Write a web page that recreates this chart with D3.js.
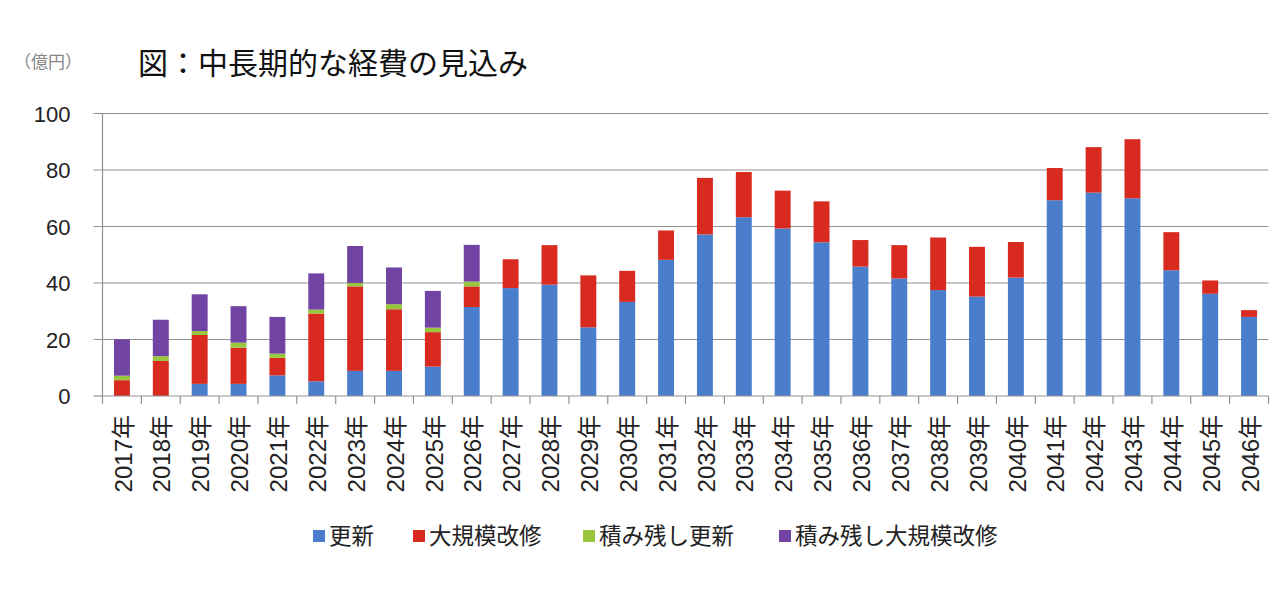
<!DOCTYPE html>
<html>
<head>
<meta charset="utf-8">
<script src="https://cdn.jsdelivr.net/npm/d3@7"></script>
<style>
  html, body { margin: 0; padding: 0; background: #fff; }
  svg { display: block; }
</style>
</head>
<body>
<svg id="chart" width="1280" height="589"></svg>
<script>
const years = ["2017年","2018年","2019年","2020年","2021年","2022年","2023年","2024年","2025年","2026年",
  "2027年","2028年","2029年","2030年","2031年","2032年","2033年","2034年","2035年","2036年",
  "2037年","2038年","2039年","2040年","2041年","2042年","2043年","2044年","2045年","2046年"];
const seriesNames = ["更新","大規模改修","積み残し更新","積み残し大規模改修"];
const koshin = [0,0,4.3,4.3,7.3,5.2,8.9,8.9,10.4,31.5,
  38.2,39.4,24.3,33.3,48.2,57.2,63.3,59.3,54.4,45.8,
  41.6,37.5,35.2,41.9,69.3,72.0,70.0,44.5,36.2,28.0];
const daikibo = [5.6,12.4,17.3,12.8,6.2,24.0,29.9,21.8,12.2,7.3,
  10.2,14.0,18.4,11.0,10.4,20.0,16.0,13.4,14.5,9.4,
  11.8,18.6,17.6,12.6,11.4,16.1,20.9,13.5,4.7,2.4];
const zanKoshin = [1.6,1.7,1.4,1.8,1.5,1.4,1.2,1.8,1.6,1.7,
  0,0,0,0,0,0,0,0,0,0,
  0,0,0,0,0,0,0,0,0,0];
const zanDaikibo = [12.9,12.9,13.0,12.9,13.0,12.8,13.1,13.0,13.0,13.0,
  0,0,0,0,0,0,0,0,0,0,
  0,0,0,0,0,0,0,0,0,0];
const yTicks = [0,20,40,60,80,100];
const colors = ["#4a7ecd","#d92a20","#98c63c","#7143a3"];

const svg = d3.select("#chart");
const pLeft = 102.5, pRight = 1268.5, pTop = 113.5, pBottom = 396;

const x = d3.scaleBand().domain(years).range([pLeft, pRight]).paddingInner(0.59).paddingOuter(0.295);
const y = d3.scaleLinear().domain([0,100]).range([pBottom, pTop]);

const rows = years.map((yr,i) => ({year: yr, s0: koshin[i], s1: daikibo[i], s2: zanKoshin[i], s3: zanDaikibo[i]}));
const stacked = d3.stack().keys(["s0","s1","s2","s3"])(rows);

// gridlines
svg.append("g").selectAll("line").data(yTicks.filter(d => d > 0)).join("line")
  .attr("x1", pLeft - 9).attr("x2", pRight)
  .attr("y1", d => y(d)).attr("y2", d => y(d))
  .attr("stroke", "#929292").attr("stroke-width", 1.2);
svg.append("line").attr("x1", pLeft - 9).attr("x2", pLeft).attr("y1", y(0)).attr("y2", y(0))
  .attr("stroke", "#929292").attr("stroke-width", 1.2);

// bars
svg.append("g").selectAll("g").data(stacked).join("g")
  .attr("fill", (d,i) => colors[i])
  .selectAll("rect").data(d => d).join("rect")
  .attr("x", d => x(d.data.year))
  .attr("width", x.bandwidth())
  .attr("y", d => y(d[1]))
  .attr("height", d => Math.max(0, y(d[0]) - y(d[1])));

// y axis
const yAxis = d3.axisLeft(y).tickValues(yTicks).tickSize(0).tickPadding(32);
const ya = svg.append("g").attr("transform", `translate(${pLeft},0)`).call(yAxis);
ya.select(".domain").remove();
ya.selectAll("text").attr("font-family", "'Liberation Sans', Arial, sans-serif")
  .attr("font-size", 22).attr("fill", "#222").attr("dy", "0.36em");
svg.append("line").attr("x1", pLeft).attr("x2", pLeft).attr("y1", pTop).attr("y2", pBottom + 8)
  .attr("stroke", "#929292").attr("stroke-width", 1.2);

// x axis line and ticks between categories
svg.append("line").attr("x1", pLeft).attr("x2", pRight).attr("y1", pBottom).attr("y2", pBottom)
  .attr("stroke", "#929292").attr("stroke-width", 1.2);
const step = x.step();
svg.append("g").selectAll("line").data(d3.range(1, years.length + 1)).join("line")
  .attr("x1", i => pLeft + i * step).attr("x2", i => pLeft + i * step)
  .attr("y1", pBottom).attr("y2", pBottom + 8)
  .attr("stroke", "#929292").attr("stroke-width", 1.2);

// x labels
svg.append("g").selectAll("text").data(years).join("text")
  .attr("transform", d => `translate(${x(d) + x.bandwidth()/2 + 1},${pBottom + 19}) rotate(-90)`)
  .attr("text-anchor", "end")
  .attr("dy", "0.36em")
  .attr("font-family", "'Liberation Sans', Arial, 'Noto Sans CJK JP', sans-serif")
  .attr("font-size", 24)
  .attr("fill", "#222")
  .text(d => d);

// title and unit
svg.append("text").attr("x", 138).attr("y", 74)
  .attr("font-family", "'Noto Sans CJK JP', sans-serif").attr("font-size", 30)
  .attr("fill", "#111").text("図：中長期的な経費の見込み");
svg.append("text").attr("x", 14).attr("y", 68)
  .attr("font-family", "'Noto Sans CJK JP', sans-serif").attr("font-size", 17)
  .attr("fill", "#858585").text("（億円）");

// legend
const legendX = [313, 413, 583, 779];
const lg = svg.append("g").selectAll("g").data(seriesNames).join("g")
  .attr("transform", (d,i) => `translate(${legendX[i]},530)`);
lg.append("rect").attr("width", 12).attr("height", 12).attr("fill", (d,i) => colors[i]);
lg.append("text").attr("x", 16).attr("y", 6).attr("dy", "0.36em")
  .attr("font-family", "'Noto Sans CJK JP', sans-serif").attr("font-size", 22.5)
  .attr("fill", "#222").text(d => d);
</script>
</body>
</html>
